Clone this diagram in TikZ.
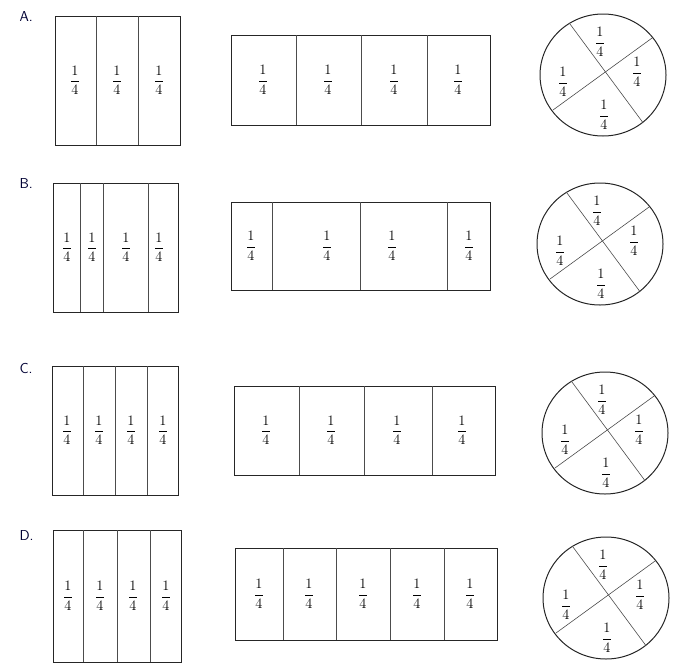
\documentclass[tikz,border=0pt]{standalone}
\usepackage{amsmath}
\begin{document}
\begin{tikzpicture}[x=1pt,y=-1pt,
  outer/.style={draw=black!85,line width=1pt},
  divider/.style={draw=black!70,line width=0.6pt},
  frac/.style={inner sep=0pt,font=\Large},
  lbl/.style={anchor=north west,font=\sffamily\Large,text=black!80!blue}]
\useasboundingbox (0,0) rectangle (683,670);
\newcommand{\fr}{$\dfrac{1}{4}$}
% labels
\node[lbl] (la) at (16,8) {A.};
\node[lbl] (lb) at (16,175) {B.};
\node[lbl] (lc) at (16,360) {C.};
\node[lbl] (ld) at (16,527) {D.};
\newcommand{\fracrect}[6]{%
  \draw[outer] (#1,#2) rectangle (#3,#4);
  \foreach \d in {#5} {\draw[divider] (\d,#2) -- (\d,#4);}
  \foreach \f in {#6} {\node[frac] at (\f,{(#2+#4)/2}) {\fr};}}
\newcommand{\fracpie}[2]{%
  \begin{scope}[shift={(#1,#2)}]
  \draw[outer] (0,0) ellipse (63 and 61);
  \draw[divider] (145:61) -- (-37:62);
  \draw[divider] (50:62) -- (237:62);
  \node[frac] at (-3,-33) {\fr};
  \node[frac] at (34,-3) {\fr};
  \node[frac] at (-40,7) {\fr};
  \node[frac] at (1,40) {\fr};
  \end{scope}}
% A
\fracrect{55}{16}{180}{145}{96,138}{75,117,159}
\fracrect{231}{35}{490}{125}{296,361,427}{263,328,394,458}
\fracpie{603}{75}
% B
\fracrect{53}{183}{178}{312}{80,103,148}{67,92,126,159}
\fracrect{231}{202}{490}{290}{272,360,447}{251,327,392,469}
\fracpie{600}{244}
% C
\fracrect{52}{366}{178}{495}{83,115,147}{67,99,131,163}
\fracrect{234}{386}{495}{475}{299,364,432}{266,331,397,462}
\fracpie{605}{433}
% D
\fracrect{53}{530}{181}{662}{83,117,150}{68,100,133,166}
\fracrect{235}{548}{497}{640}{283,336,390,444}{259,309,363,417,470}
\fracpie{606}{598}
\end{tikzpicture}
\end{document}
